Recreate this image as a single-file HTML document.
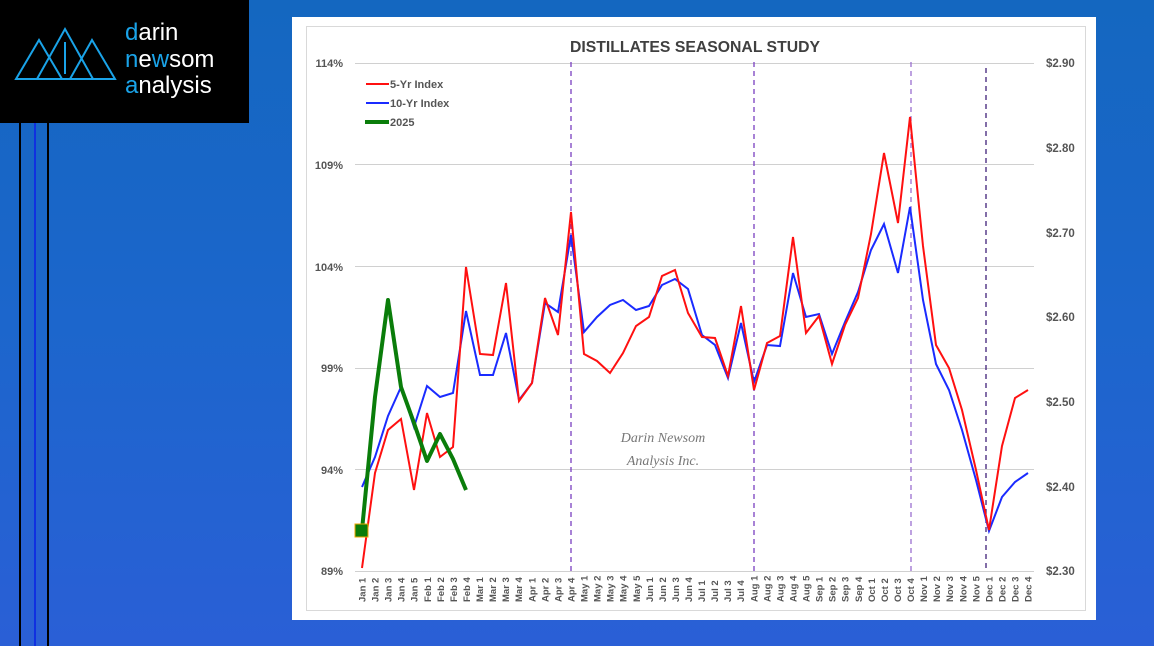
<!DOCTYPE html>
<html><head><meta charset="utf-8"><style>
html,body{margin:0;padding:0;width:1154px;height:646px;overflow:hidden}
body{background:linear-gradient(180deg,#1467c0 0%,#1c66cc 50%,#2a5fd6 100%);font-family:"Liberation Sans",sans-serif}
</style></head><body>
<svg width="1154" height="646" xmlns="http://www.w3.org/2000/svg" style="position:absolute;left:0;top:0">
<rect x="0" y="0" width="249" height="123" fill="#000"/>
<g fill="none" stroke="#1aa3e8" stroke-width="2">
<polygon points="16,79 39,40 62,79"/><polygon points="37,79 65,29 93,79"/><polygon points="70,79 92,40 115,79"/>
<line x1="65" y1="42" x2="65" y2="74"/>
</g>
<text x="125" y="40" font-size="24" fill="#fff"><tspan fill="#1aa3e8">d</tspan>arin</text>
<text x="125" y="67" font-size="24" fill="#fff"><tspan fill="#1aa3e8">n</tspan>e<tspan fill="#1aa3e8">w</tspan>som</text>
<text x="125" y="93" font-size="24" fill="#fff"><tspan fill="#1aa3e8">a</tspan>nalysis</text>
<rect x="19" y="123" width="2" height="523" fill="#000"/>
<rect x="34" y="123" width="2" height="523" fill="#1030e0"/>
<rect x="47" y="123" width="2" height="523" fill="#000"/>
<rect x="292" y="17" width="804" height="603" fill="#fff"/>
<rect x="306.5" y="26.5" width="779" height="584" fill="none" stroke="#d9d9d9"/>
<text x="695" y="52" font-size="16" font-weight="bold" fill="#404040" text-anchor="middle" textLength="250" lengthAdjust="spacingAndGlyphs">DISTILLATES SEASONAL STUDY</text>
<g stroke="#d0d0d0" stroke-width="1">
<line x1="355" y1="63.5" x2="1034" y2="63.5"/><line x1="355" y1="164.5" x2="1034" y2="164.5"/><line x1="355" y1="266.5" x2="1034" y2="266.5"/><line x1="355" y1="368.5" x2="1034" y2="368.5"/><line x1="355" y1="469.5" x2="1034" y2="469.5"/><line x1="355" y1="571.5" x2="1034" y2="571.5"/>
</g>
<g font-size="11" font-weight="bold" fill="#555" text-anchor="end">
<text x="343" y="67">114%</text><text x="343" y="169">109%</text><text x="343" y="271">104%</text><text x="343" y="372">99%</text><text x="343" y="474">94%</text><text x="343" y="575">89%</text>
</g>
<g font-size="11.5" font-weight="bold" fill="#555" text-anchor="start">
<text x="1046" y="67">$2.90</text><text x="1046" y="152">$2.80</text><text x="1046" y="237">$2.70</text><text x="1046" y="321">$2.60</text><text x="1046" y="406">$2.50</text><text x="1046" y="491">$2.40</text><text x="1046" y="575">$2.30</text>
</g>
<g stroke-width="1.3" stroke-dasharray="5,4">
<line x1="571" y1="62" x2="571" y2="571" stroke="#7a3fc0"/>
<line x1="754" y1="62" x2="754" y2="571" stroke="#7a3fc0"/>
<line x1="911" y1="62" x2="911" y2="571" stroke="#9a6fd0"/>
<line x1="986" y1="68" x2="986" y2="571" stroke="#40207a"/>
</g>
<g font-family="Liberation Serif,serif" font-style="italic" font-size="14" fill="#777" text-anchor="middle">
<text x="663" y="442">Darin Newsom</text><text x="663" y="465">Analysis Inc.</text>
</g>
<g id="xl" font-size="9.5" font-weight="bold" fill="#555"></g>
<polyline fill="none" stroke="#1a2bff" stroke-width="2" points="362,487 375,457 388,416 401,387 414,427 427,386 440,397 453,393 466,311 480,375 493,375 506,333 519,400 532,383 545,303 558,312 571,235 584,332 597,317 610,305 623,300 636,310 649,306 662,285 675,279 688,289 702,335 715,345 728,378 741,323 754,382 767,345 780,346 793,273 806,317 819,314 832,354 845,322 858,292 871,250 884,224 898,273 910,207 923,300 936,364 949,390 962,430 976,480 989,531 1002,497 1015,482 1028,473"/>
<polyline fill="none" stroke="#ff1010" stroke-width="2" points="362,568 375,473 388,430 401,419 414,490 427,413 440,457 453,447 466,267 480,354 493,355 506,283 519,401 532,383 545,298 558,335 571,212 584,354 597,361 610,373 623,353 636,326 649,317 662,276 675,270 688,313 702,337 715,338 728,376 741,306 754,390 767,343 780,336 793,237 806,333 819,316 832,364 845,325 858,298 871,234 884,153 898,223 910,117 923,246 936,345 949,368 962,410 976,470 989,530 1002,446 1015,398 1028,390"/>
<polyline fill="none" stroke="#0a7d0a" stroke-width="4" stroke-linejoin="round" points="362,530 375,397 388,300 401,387 414,423 427,461 440,434 453,459 466,490"/>
<rect x="355" y="524" width="13" height="13" fill="#0a7d0a" stroke="#f0a800" stroke-width="1"/>
<line x1="366" y1="84" x2="389" y2="84" stroke="#ff1010" stroke-width="2"/>
<line x1="366" y1="103" x2="389" y2="103" stroke="#1a2bff" stroke-width="2"/>
<line x1="365" y1="122" x2="389" y2="122" stroke="#0a7d0a" stroke-width="4"/>
<g font-size="11" font-weight="bold" fill="#555">
<text x="390" y="88">5-Yr Index</text><text x="390" y="107">10-Yr Index</text><text x="390" y="126">2025</text>
</g>
</svg>
<script>
var L=[];var m=[["Jan",5],["Feb",4],["Mar",4],["Apr",4],["May",5],["Jun",4],["Jul",4],["Aug",5],["Sep",4],["Oct",4],["Nov",5],["Dec",4]];
m.forEach(function(a){for(var i=1;i<=a[1];i++)L.push(a[0]+" "+i)});
var g=document.getElementById("xl"),s="";
L.forEach(function(t,i){var x=362+i*13.06+3.5;s+='<text transform="translate('+x.toFixed(1)+',602) rotate(-90)">'+t+'</text>'});
g.innerHTML=s;
</script>
</body></html>
